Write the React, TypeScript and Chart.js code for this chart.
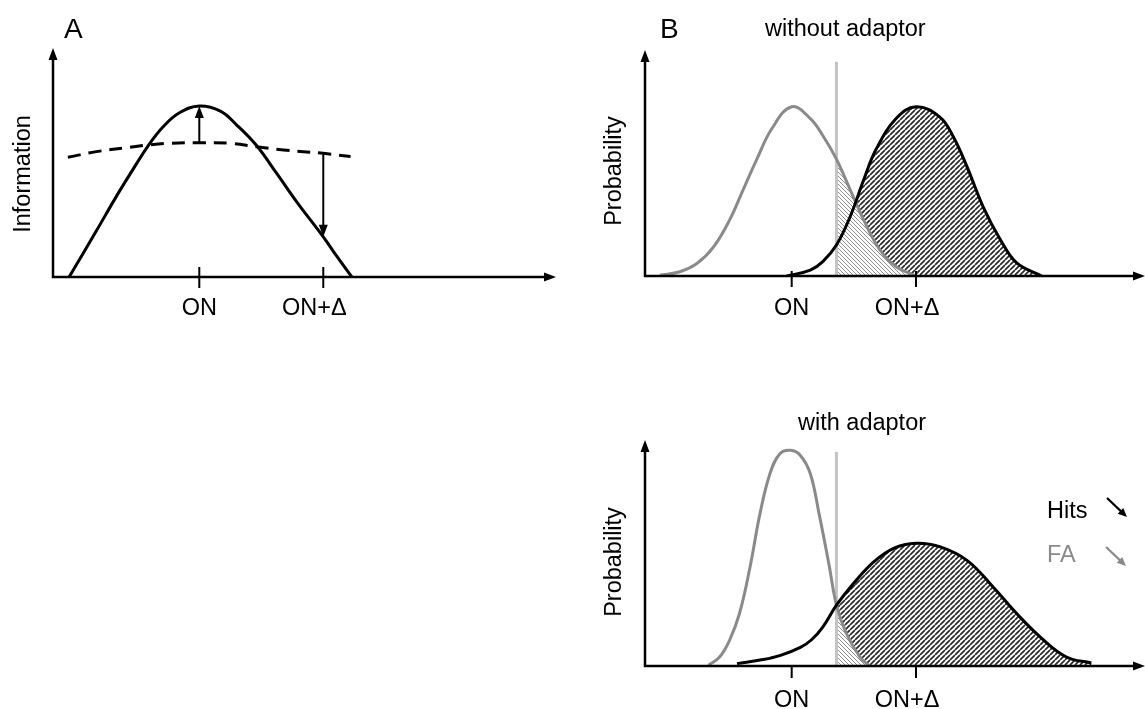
import React, { useEffect, useRef } from 'react';
import { Chart, registerables } from 'chart.js';

Chart.register(...registerables);

const FONT = "'Liberation Sans', Arial, Helvetica, sans-serif";
const GREY = '#8a8a8a';
const CRITERION_GREY = '#c4c4c4';

// Stimulus axis in arbitrary units: ON sits at 0, ON+Δ at 10
const tickValues = [0, 10];
const tickLabels = ['ON', 'ON+Δ'];

// A: information carried about the stimulus, before (solid) and after (dashed) adaptation
const infoX = [-10.5, -8.3, -6.7, -5.6, -4.1, -2.9, -1.6, 0, 1.7, 3.0, 4.6, 6.2, 7.9, 10, 11.1, 12.3];
const infoY = [0, 27, 47, 60, 77, 88, 96, 100, 97, 89, 77, 61, 43.5, 23.5, 12, 0];
const adaptedInfoX = [-10.6, -8.3, -5.6, -4.1, -2.4, 0, 2.5, 4.6, 6.8, 10, 12.2];
const adaptedInfoY = [70, 73.3, 75.8, 77.2, 78.2, 78.5, 78.2, 76.2, 74.3, 72.3, 70.4];

// B, without adaptor: response distributions for ON (noise) and ON+Δ (signal)
const noiseX = [-10.6, -9.0, -7.6, -6.3, -5.0, -3.9, -2.8, -1.6, 0, 1.5, 2.5, 3.6, 4.7, 5.8, 7.1, 8.4, 10];
const noiseY = [0.5, 2.5, 7.5, 17, 33, 51, 69, 87, 100, 93, 83, 69, 51, 33, 15.4, 5.5, 0];
const signalX = [-0.4, 1.5, 2.5, 3.6, 4.7, 5.8, 6.8, 8.4, 10, 11.9, 13.0, 14.1, 15.4, 16.8, 18.1, 20.1];
const signalY = [0, 3.5, 8.5, 18.3, 35, 57, 75, 93, 100, 94, 82.3, 64.6, 40.9, 21.3, 7.7, 0];

// B, with adaptor
const noiseAdaptX = [-6.7, -5.8, -5.0, -4.2, -3.35, -2.55, -1.75, -0.95, -0.1, 0.7, 1.5, 2.2, 3.0, 3.6, 4.4, 5.5, 6.2];
const noiseAdaptY = [0.4, 5.3, 15.2, 31, 58.5, 90, 113.6, 125.4, 127.4, 124.4, 113.6, 90, 60, 36, 19.2, 5.3, 0.4];
const signalAdaptX = [-4.4, -2.3, -0.9, 0.7, 1.6, 2.5, 3.6, 5.0, 6.6, 8.2, 10, 11.9, 14.1, 16.2, 18.1, 20.0, 22.1, 24.1];
const signalAdaptY = [1.4, 3.8, 6.3, 11, 15.5, 23, 35.9, 49, 61.5, 69.5, 72.5, 70.5, 62.4, 46.7, 31, 17.1, 5.3, 1.8];

// Decision criterion and the top of its marker line
const criterion = 3.6;
const criterionTop = 126.5;

type XY = { x: number; y: number };
const zip = (xs: number[], ys: number[]): XY[] => xs.map((x, i) => ({ x, y: ys[i] }));

function head(ctx: CanvasRenderingContext2D, x: number, y: number, angle: number, len: number, halfW: number) {
  ctx.save();
  ctx.translate(x, y);
  ctx.rotate(angle);
  ctx.beginPath();
  ctx.moveTo(0, 0);
  ctx.lineTo(-len, -halfW);
  ctx.lineTo(-len, halfW);
  ctx.closePath();
  ctx.fill();
  ctx.restore();
}

function arrow(
  ctx: CanvasRenderingContext2D,
  x1: number, y1: number, x2: number, y2: number,
  color: string, width: number, len: number, halfW: number,
) {
  const a = Math.atan2(y2 - y1, x2 - x1);
  ctx.save();
  ctx.strokeStyle = color;
  ctx.fillStyle = color;
  ctx.lineWidth = width;
  ctx.beginPath();
  ctx.moveTo(x1, y1);
  ctx.lineTo(x2 - Math.cos(a) * len * 0.7, y2 - Math.sin(a) * len * 0.7);
  ctx.stroke();
  head(ctx, x2, y2, a, len, halfW);
  ctx.restore();
}

function hatch(ctx: CanvasRenderingContext2D, size: number, color: string, width: number, dir: number) {
  const c = document.createElement('canvas');
  c.width = size;
  c.height = size;
  const g = c.getContext('2d')!;
  g.strokeStyle = color;
  g.lineWidth = width;
  g.beginPath();
  for (let k = -1; k <= 1; k++) {
    if (dir > 0) {
      g.moveTo(k * size, size);
      g.lineTo(k * size + size, 0);
    } else {
      g.moveTo(k * size, 0);
      g.lineTo(k * size + size, size);
    }
  }
  g.stroke();
  return ctx.createPattern(c, 'repeat')!;
}

// Axis pair with arrow heads, plus the ON / ON+Δ ticks
function axesPlugin(tickAbove: number, tickBelow: number, labelGap: number) {
  const labelShift = [0, -9];
  return {
    id: 'arrowAxes',
    afterDatasetsDraw(chart: any) {
      const { ctx, chartArea } = chart;
      const { left, right, top, bottom } = chartArea;
      const xs = chart.scales.x;
      ctx.save();
      ctx.strokeStyle = '#000';
      ctx.fillStyle = '#000';
      ctx.lineWidth = 2.5;
      ctx.beginPath();
      ctx.moveTo(left, top + 8);
      ctx.lineTo(left, bottom);
      ctx.lineTo(right - 8, bottom);
      ctx.stroke();
      head(ctx, left, top, -Math.PI / 2, 12, 4.5);
      head(ctx, right, bottom, 0, 12, 4.5);
      ctx.lineWidth = 2;
      ctx.font = `23.5px ${FONT}`;
      ctx.textAlign = 'center';
      ctx.textBaseline = 'alphabetic';
      tickValues.forEach((v, i) => {
        const px = xs.getPixelForValue(v);
        ctx.beginPath();
        ctx.moveTo(px, bottom - tickAbove);
        ctx.lineTo(px, bottom + tickBelow);
        ctx.stroke();
        ctx.fillText(tickLabels[i], px + labelShift[i], bottom + labelGap);
      });
      ctx.restore();
    },
  };
}

type Label = { text: string; x: number; y: number; size: number; color?: string; rotate?: boolean };
type Pointer = { x1: number; y1: number; x2: number; y2: number; color: string };

function annotationPlugin(labels: Label[], pointers: Pointer[] = []) {
  return {
    id: 'annotations',
    afterDraw(chart: any) {
      const ctx: CanvasRenderingContext2D = chart.ctx;
      labels.forEach((l) => {
        ctx.save();
        ctx.fillStyle = l.color || '#000';
        ctx.font = `${l.size}px ${FONT}`;
        if (l.rotate) {
          ctx.translate(l.x, l.y);
          ctx.rotate(-Math.PI / 2);
          ctx.textAlign = 'center';
          ctx.textBaseline = 'middle';
          ctx.fillText(l.text, 0, 0);
        } else {
          ctx.textAlign = 'left';
          ctx.textBaseline = 'alphabetic';
          ctx.fillText(l.text, l.x, l.y);
        }
        ctx.restore();
      });
      pointers.forEach((p) => arrow(ctx, p.x1, p.y1, p.x2, p.y2, p.color, 2.2, 9, 4));
    },
  };
}

// Arrows from the adapted curve to the unadapted one at each tick position
const gainArrows = {
  id: 'gainArrows',
  afterDatasetsDraw(chart: any) {
    const ctx: CanvasRenderingContext2D = chart.ctx;
    const xs = chart.scales.x;
    const ys = chart.scales.y;
    tickValues.forEach((v) => {
      const from = adaptedInfoY[adaptedInfoX.indexOf(v)];
      const to = infoY[infoX.indexOf(v)];
      const px = xs.getPixelForValue(v);
      arrow(ctx, px, ys.getPixelForValue(from), px, ys.getPixelForValue(to), '#000', 2, 12, 4.5);
    });
  },
};

// Hit (signal beyond criterion) and false-alarm (noise beyond criterion) areas
function decisionPlugin(signalIndex: number, noiseIndex: number) {
  let hits: CanvasPattern | null = null;
  let falseAlarms: CanvasPattern | null = null;
  return {
    id: 'decision',
    beforeDatasetsDraw(chart: any) {
      const ctx: CanvasRenderingContext2D = chart.ctx;
      const area = chart.chartArea;
      if (!hits) {
        hits = hatch(ctx, 5, '#2a2a2a', 1.7, 1);
        falseAlarms = hatch(ctx, 4, '#8f8f8f', 1, -1);
      }
      const xs = chart.scales.x;
      const ys = chart.scales.y;
      const cx = xs.getPixelForValue(criterion);
      const base = ys.getPixelForValue(0);
      const fillBeyond = (index: number, pattern: CanvasPattern, underlay?: string) => {
        const line = chart.getDatasetMeta(index).dataset;
        if (!line) return;
        line.updateControlPoints(area, 'x');
        const pts = line.points;
        ctx.save();
        ctx.beginPath();
        ctx.rect(cx, area.top - 20, area.right - cx, base - area.top + 20);
        ctx.clip();
        ctx.beginPath();
        line.path(ctx);
        ctx.lineTo(pts[pts.length - 1].x, base);
        ctx.lineTo(pts[0].x, base);
        ctx.closePath();
        if (underlay) {
          ctx.fillStyle = underlay;
          ctx.fill();
        }
        ctx.fillStyle = pattern;
        ctx.fill();
        ctx.restore();
      };
      fillBeyond(signalIndex, hits!);
      fillBeyond(noiseIndex, falseAlarms!, '#fff');
      ctx.save();
      ctx.strokeStyle = CRITERION_GREY;
      ctx.lineWidth = 3;
      ctx.beginPath();
      ctx.moveTo(cx, ys.getPixelForValue(criterionTop));
      ctx.lineTo(cx, base);
      ctx.stroke();
      ctx.restore();
    },
  };
}

const curve = (data: XY[], color: string, dash?: number[]) => ({
  data,
  borderColor: color,
  borderWidth: 3,
  borderDash: dash || [],
  tension: 0.4,
  pointRadius: 0,
  fill: false,
});

interface PanelSpec {
  width: number;
  height: number;
  left: number;
  top: number;
  padding: { left: number; top: number; right: number; bottom: number };
  xMin: number;
  xMax: number;
  yMax: number;
  datasets: any[];
  plugins: any[];
}

function Panel({ spec }: { spec: PanelSpec }) {
  const ref = useRef<HTMLCanvasElement>(null);
  useEffect(() => {
    const chart = new Chart(ref.current!, {
      type: 'line',
      data: { datasets: spec.datasets },
      options: {
        animation: false,
        responsive: false,
        devicePixelRatio: 1,
        events: [],
        layout: { padding: spec.padding },
        scales: {
          x: { type: 'linear', min: spec.xMin, max: spec.xMax, display: false },
          y: { type: 'linear', min: 0, max: spec.yMax, display: false },
        },
        plugins: { legend: { display: false }, tooltip: { enabled: false } },
      },
      plugins: spec.plugins,
    } as any);
    return () => chart.destroy();
  }, []);
  return (
    <canvas
      ref={ref}
      width={spec.width}
      height={spec.height}
      style={{ position: 'absolute', left: spec.left, top: spec.top, width: spec.width, height: spec.height }}
    />
  );
}

const panelA: PanelSpec = {
  width: 575, height: 335, left: 0, top: 0,
  padding: { left: 53, top: 48, right: 19, bottom: 58 },
  xMin: -11.8, xMax: 28.77, yMax: 133.9,
  datasets: [curve(zip(infoX, infoY), '#000'), curve(zip(adaptedInfoX, adaptedInfoY), '#000', [13, 8])],
  plugins: [
    axesPlugin(10, 11, 38),
    gainArrows,
    annotationPlugin([
      { text: 'A', x: 64, y: 38, size: 28 },
      { text: 'Information', x: 24, y: 174, size: 23.5, rotate: true },
    ]),
  ],
};

const panelB1: PanelSpec = {
  width: 555, height: 335, left: 590, top: 0,
  padding: { left: 55, top: 50, right: 0, bottom: 59 },
  xMin: -11.8, xMax: 28.42, yMax: 133.5,
  datasets: [curve(zip(signalX, signalY), '#000'), curve(zip(noiseX, noiseY), GREY)],
  plugins: [
    decisionPlugin(0, 1),
    axesPlugin(5, 11, 39),
    annotationPlugin([
      { text: 'B', x: 70, y: 38, size: 28 },
      { text: 'without adaptor', x: 175, y: 35.5, size: 23.5 },
      { text: 'Probability', x: 25, y: 171, size: 23.5, rotate: true },
    ]),
  ],
};

const panelB2: PanelSpec = {
  width: 555, height: 319, left: 590, top: 390,
  padding: { left: 55, top: 50, right: 0, bottom: 43 },
  xMin: -11.8, xMax: 28.42, yMax: 133.5,
  datasets: [curve(zip(signalAdaptX, signalAdaptY), '#000'), curve(zip(noiseAdaptX, noiseAdaptY), GREY)],
  plugins: [
    decisionPlugin(0, 1),
    axesPlugin(0, 12, 41),
    annotationPlugin(
      [
        { text: 'with adaptor', x: 208, y: 40, size: 23.5 },
        { text: 'Probability', x: 25, y: 172, size: 23.5, rotate: true },
        { text: 'Hits', x: 457, y: 128, size: 23.5 },
        { text: 'FA', x: 457, y: 172, size: 23.5, color: GREY },
      ],
      [
        { x1: 517, y1: 108, x2: 537, y2: 127, color: '#000' },
        { x1: 516, y1: 157, x2: 536, y2: 176, color: GREY },
      ],
    ),
  ],
};

export default function App() {
  return (
    <div style={{ position: 'absolute', left: 0, top: 0, width: 1145, height: 709, background: '#fff', overflow: 'hidden' }}>
      <Panel spec={panelA} />
      <Panel spec={panelB1} />
      <Panel spec={panelB2} />
    </div>
  );
}
